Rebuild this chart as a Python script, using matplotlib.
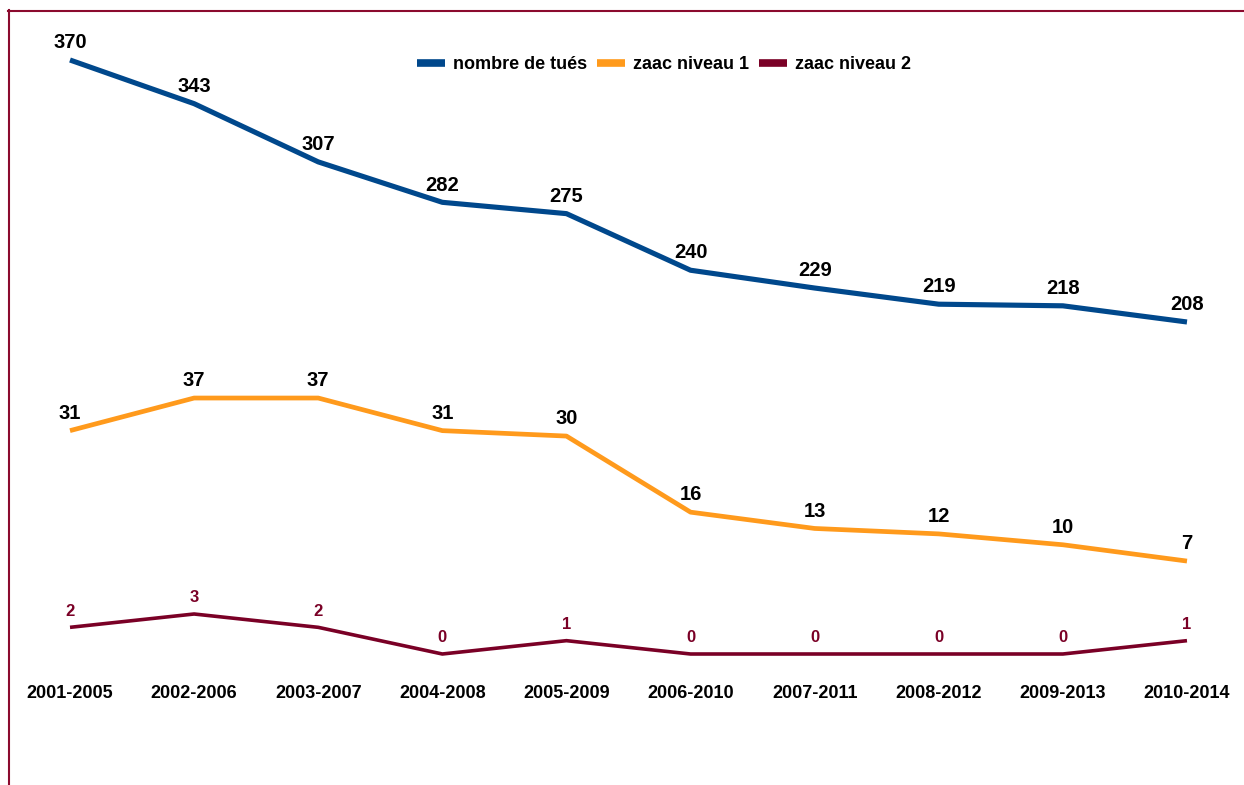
import matplotlib.pyplot as plt
from matplotlib.lines import Line2D
import numpy as np

plt.rcParams['font.family'] = ['Liberation Sans', 'DejaVu Sans']
plt.rcParams['font.weight'] = 'bold'

periodes = ['2001-2005', '2002-2006', '2003-2007', '2004-2008', '2005-2009',
            '2006-2010', '2007-2011', '2008-2012', '2009-2013', '2010-2014']
tues = [370, 343, 307, 282, 275, 240, 229, 219, 218, 208]
zaac1 = [31, 37, 37, 31, 30, 16, 13, 12, 10, 7]
zaac2 = [2, 3, 2, 0, 1, 0, 0, 0, 0, 1]

bleu = '#00488c'
orange = '#ff9a1c'
bordeaux = '#7a0026'

fig = plt.figure(figsize=(12.44, 7.85), dpi=100)
ax = fig.add_axes([0.05627, 0.16688, 0.8979, 0.75669])
ax2 = ax.twinx()
ax3 = ax.twinx()

x = np.arange(len(periodes))

# chaque serie a sa propre echelle
ax.plot(x, tues, color=bleu, lw=3.7, solid_capstyle='butt', clip_on=False)
ax2.plot(x, zaac1, color=orange, lw=3.4, solid_capstyle='butt', clip_on=False)
ax3.plot(x, zaac2, color=bordeaux, lw=2.6, solid_capstyle='butt', clip_on=False)

ax.set_ylim(2.7, 370)
ax2.set_ylim(-10.1, 99.2)
ax3.set_ylim(0, 44.55)
for a in (ax, ax2, ax3):
    a.set_xlim(0, 9)
    for s in a.spines.values():
        s.set_visible(False)
    a.tick_params(left=False, right=False, labelleft=False, labelright=False)

for a, vals, col, fs in ((ax, tues, 'black', 14.5), (ax2, zaac1, 'black', 14.5), (ax3, zaac2, bordeaux, 12)):
    for i, v in enumerate(vals):
        a.annotate(str(v), (x[i], v), xytext=(0, 8.5), textcoords='offset points',
                   ha='center', va='baseline', fontsize=fs, fontweight='bold', color=col,
                   annotation_clip=False)

ax.set_xticks(x)
ax.set_xticklabels(periodes, fontsize=13, fontweight='bold')
ax.tick_params(axis='x', length=0, pad=22)
ax2.tick_params(axis='x', bottom=False, labelbottom=False)
ax3.tick_params(axis='x', bottom=False, labelbottom=False)

handles = [Line2D([], [], color=c, lw=5.5, solid_capstyle='butt') for c in (bleu, orange, bordeaux)]
noms = ['nombre de tués', 'zaac niveau 1', 'zaac niveau 2']
fig.legend(handles, noms, loc='center', ncol=3,
           bbox_to_anchor=(0.534, 0.918), frameon=False, fontsize=13,
           handlelength=1.55, handletextpad=0.45, columnspacing=0.55)

# cadre
fig.add_artist(Line2D([8.5 / 1244, 8.5 / 1244], [0, 1 - 10 / 785], color='#8b0a2e', lw=1.5))
fig.add_artist(Line2D([8 / 1244, 1], [1 - 10.5 / 785, 1 - 10.5 / 785], color='#8b0a2e', lw=1.5))

fig.savefig('out.png', dpi=100)
